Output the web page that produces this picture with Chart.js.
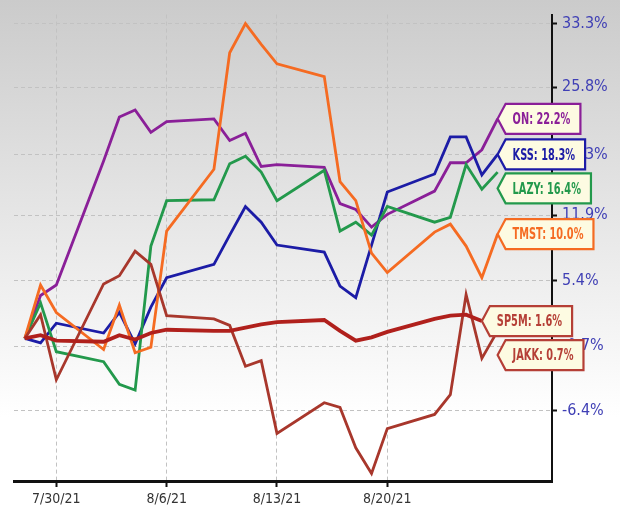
<!DOCTYPE html>
<html lang="en">
<head>
  <meta charset="UTF-8" />
  <title>Relative performance</title>
  <script src="https://cdn.jsdelivr.net/npm/chart.js"></script>
  <style>
    html, body { margin: 0; padding: 0; background: #fff; }
    #wrap { width: 620px; height: 521px; }
  </style>
</head>
<body>
  <div id="wrap"><canvas id="perfChart" width="620" height="521"></canvas></div>

  <script>
    // trading days shown
    const dates = ['2021-07-28', '2021-07-29', '2021-07-30', '2021-08-02', '2021-08-03', '2021-08-04',
      '2021-08-05', '2021-08-06', '2021-08-09', '2021-08-10', '2021-08-11', '2021-08-12', '2021-08-13',
      '2021-08-16', '2021-08-17', '2021-08-18', '2021-08-19', '2021-08-20', '2021-08-23', '2021-08-24',
      '2021-08-25', '2021-08-26', '2021-08-27'];

    const tickDates = ['2021-07-30', '2021-08-06', '2021-08-13', '2021-08-20'];
    const tickLabels = ['7/30/21', '8/6/21', '8/13/21', '8/20/21'];

    const yTickValues = [-6.4, -0.7, 5.4, 11.9, 18.3, 25.8, 33.3];
    const yTickLabels = ['-6.4%', '-0.7%', '5.4%', '11.9%', '18.3%', '25.8%', '33.3%'];

    // % change since 7/28
    const on   = [0, 4.0, 5.0, 17.6, 22.4, 23.2, 20.7, 21.9, 22.2, 19.8, 20.6, 17.0, 17.2, 16.9, 13.1, 12.5, 10.7, 12.0, 14.4, 17.4, 17.4, 18.8, 22.2];
    const kss  = [0, -0.4, 1.4, 0.5, 2.4, -0.5, 2.9, 5.7, 7.0, 9.9, 12.8, 11.2, 8.9, 8.2, 4.9, 3.8, 8.9, 14.3, 16.2, 20.2, 20.2, 16.1, 18.3];
    const lazy = [0, 3.3, -1.2, -2.1, -4.1, -4.6, 8.8, 13.4, 13.5, 17.3, 18.1, 16.4, 13.4, 16.6, 10.3, 11.2, 9.9, 12.8, 11.2, 11.7, 17.2, 14.6, 16.4];
    const tmst = [0, 5.0, 2.4, -1.0, 3.1, -1.3, -0.8, 10.3, 16.7, 29.8, 33.3, 30.8, 28.5, 27.0, 15.4, 13.4, 8.1, 6.2, 10.2, 11.0, 8.8, 5.7, 10.0];
    const sp5m = [0, 0.3, -0.2, -0.3, 0.3, -0.1, 0.5, 0.8, 0.7, 0.7, 1.0, 1.3, 1.5, 1.7, 0.7, -0.2, 0.1, 0.6, 1.8, 2.1, 2.2, 1.6];
    const jakk = [0, 2.2, -3.7, 5.1, 5.9, 8.3, 7.0, 2.1, 1.8, 1.2, -2.5, -2.0, -8.3, -5.7, -6.1, -9.5, -11.6, -7.9, -6.7, -5.0, 4.1, -1.8, 0.7];

    const toDay = d => (Date.parse(d) - Date.parse(dates[0])) / 86400000;
    const toRatio = p => 1 + p / 100;   // axis is logarithmic in (1 + change)

    const narrow = '"Liberation Sans Narrow", "DejaVu Sans Condensed", "Liberation Sans", sans-serif';

    function makeSet(label, values, color, width, labelColor) {
      return {
        label: label,
        values: values,
        data: values.map((v, i) => ({ x: toDay(dates[i]), y: toRatio(v) })),
        borderColor: color,
        borderWidth: width,
        labelColor: labelColor || color,
        pointRadius: 0,
        tension: 0,
        fill: false
      };
    }

    const datasets = [
      makeSet('SP5M', sp5m, '#b0201c', 3.8, '#b53f36'),
      makeSet('JAKK', jakk, '#a8372c', 2.8, '#b53f36'),
      makeSet('TMST', tmst, '#f56b22', 2.8),
      makeSet('LAZY', lazy, '#23994c', 2.8),
      makeSet('KSS', kss, '#1c1ca6', 2.8),
      makeSet('ON', on, '#8a1f98', 2.8)
    ];

    const background = {
      id: 'background',
      beforeDraw(chart) {
        const { ctx, width, height } = chart;
        const g = ctx.createLinearGradient(0, 0, 0, height);
        g.addColorStop(0, '#cbcbcb');
        g.addColorStop(0.8, '#ffffff');
        ctx.save();
        ctx.fillStyle = g;
        ctx.fillRect(0, 0, width, height);
        ctx.restore();
      }
    };

    // tagged labels at the end of each line
    const endLabels = {
      id: 'endLabels',
      afterDatasetsDraw(chart) {
        const ctx = chart.ctx;
        const squeeze = 0.68;
        const items = chart.data.datasets.map((ds, i) => {
          const pts = chart.getDatasetMeta(i).data;
          const last = pts[pts.length - 1];
          const v = ds.values[ds.values.length - 1];
          return { x: last.x, y: last.y, text: ds.label + ': ' + v.toFixed(1) + '%', color: ds.labelColor };
        }).sort((a, b) => a.y - b.y);
        for (let i = 1; i < items.length; i++) {
          items[i].y = Math.max(items[i].y, items[i - 1].y + 34);
        }
        ctx.save();
        ctx.font = 'bold 16px ' + narrow;
        items.forEach(it => {
          const tw = ctx.measureText(it.text).width * squeeze;
          const h = 30;
          const left = it.x;
          const right = it.x + 15 + tw + 10;
          ctx.beginPath();
          ctx.moveTo(left, it.y);
          ctx.lineTo(left + 8, it.y - h / 2);
          ctx.lineTo(right, it.y - h / 2);
          ctx.lineTo(right, it.y + h / 2);
          ctx.lineTo(left + 8, it.y + h / 2);
          ctx.closePath();
          ctx.fillStyle = '#fdfbe2';
          ctx.fill();
          ctx.lineWidth = 2.2;
          ctx.strokeStyle = it.color;
          ctx.stroke();
          ctx.save();
          ctx.translate(left + 15, it.y + 1);
          ctx.scale(squeeze, 1);
          ctx.fillStyle = it.color;
          ctx.textBaseline = 'middle';
          ctx.fillText(it.text, 0, 0);
          ctx.restore();
        });
        ctx.restore();
      }
    };

    new Chart(document.getElementById('perfChart'), {
      type: 'line',
      data: { datasets: datasets },
      options: {
        responsive: false,
        animation: false,
        layout: { padding: { left: 14, top: 8, right: 0, bottom: 0 } },
        plugins: {
          legend: { display: false },
          tooltip: { enabled: false }
        },
        scales: {
          x: {
            type: 'linear',
            min: -0.685,
            max: 33.45,
            afterBuildTicks: s => { s.ticks = tickDates.map(d => ({ value: toDay(d) })); },
            afterFit: s => { s.height = 40; },
            grid: { color: '#c2c2c2', lineWidth: 1, tickLength: 6, tickColor: '#111', tickWidth: 2 },
            border: { color: '#111', width: 3, dash: [4, 3] },
            ticks: {
              autoSkip: false,
              maxRotation: 0,
              padding: 4,
              color: '#333',
              font: { family: narrow, size: 14 },
              callback: (v, i) => tickLabels[i]
            }
          },
          y: {
            type: 'logarithmic',
            position: 'right',
            min: toRatio(-12.2),
            max: toRatio(34.4),
            afterBuildTicks: s => { s.ticks = yTickValues.map(v => ({ value: toRatio(v) })); },
            afterFit: s => { s.width = 68; },
            grid: { color: '#c2c2c2', lineWidth: 1, tickLength: 5, tickColor: '#111', tickWidth: 2 },
            border: { color: '#111', width: 2, dash: [4, 3] },
            ticks: {
              autoSkip: false,
              padding: 5,
              color: '#3f3fb5',
              font: { family: narrow, size: 16 },
              callback: (v, i) => yTickLabels[i]
            }
          }
        }
      },
      plugins: [background, endLabels]
    });
  </script>
</body>
</html>
